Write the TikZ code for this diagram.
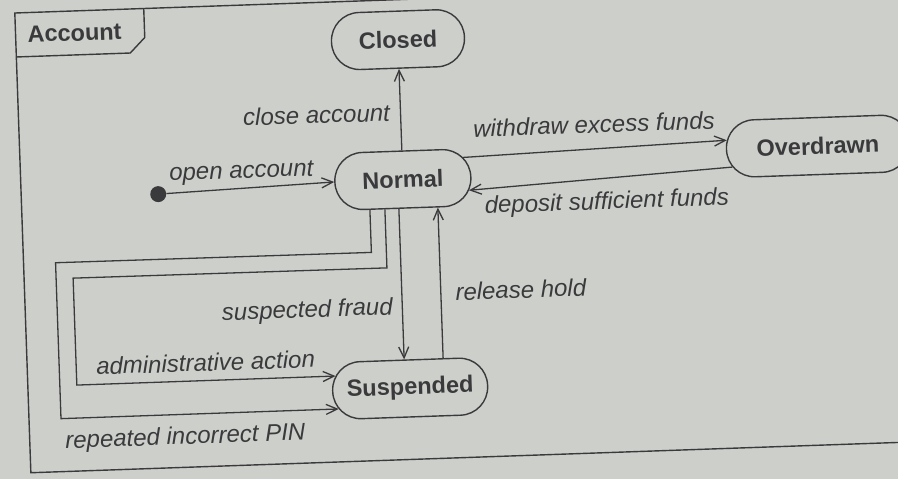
\documentclass[tikz,border=0pt]{standalone}
\usepackage{fontspec}
\setmainfont{Liberation Sans}
\usetikzlibrary{arrows.meta,calc}
\definecolor{paper}{RGB}{205,207,203}
\definecolor{ink}{RGB}{58,58,60}
\begin{document}
\begin{tikzpicture}[x=1pt,y=1pt,
  stbox/.style={draw=ink, line width=1.4pt, rounded corners=28pt,
    minimum height=57pt, inner sep=0pt, text=ink,
    font=\bfseries\fontsize{23.5}{28}\selectfont},
  lbl/.style={inner sep=0pt, text=ink, text height=17pt, text depth=5pt,
    font=\itshape\fontsize{24}{28}\selectfont},
  arr/.style={draw=ink, line width=1.3pt,
    -{Straight Barb[length=11pt,width=10pt,line width=1.3pt]}},
  framestyle/.style={draw=ink, line width=1.4pt}]
% paper
\fill[paper] (0,0) rectangle (898,-479);
\useasboundingbox (0,0) rectangle (898,-479);
\begin{scope}[transform canvas={rotate around={2:(449,-240)}}]
  % frame with name tab
  \draw[framestyle] (960,2) -- (23,2) -- (23,-458) -- (960,-458);
  \draw[framestyle] (23,-42) -- (137,-42) -- (152,-27) -- (152,2);
  \node[text=ink, inner sep=0pt, font=\bfseries\fontsize{23.5}{28}\selectfont]
    (acct) at (82,-20) {Account};

  % states
  \node[stbox, minimum width=133pt] (closed) at (405,-38)  {Closed};
  \node[stbox, minimum width=136pt] (normal) at (405,-178) {Normal};
  \node[stbox, minimum width=183pt] (over)   at (821,-159) {Overdrawn};
  \node[stbox, minimum width=155pt] (susp)   at (405,-387) {Suspended};
  \node[circle, fill=ink, minimum size=16pt, inner sep=0pt] (init) at (160,-184) {};

  % transitions
  \draw[arr] (init) -- node[lbl, pos=0.45, yshift=16pt] {open account} (normal.west);
  \draw[arr] (normal.north) -- node[lbl, left=10pt, pos=0.44] {close account} (closed.south);
  \draw[arr] ($(normal.east)+(-8,20)$) --
    node[lbl, pos=0.5, yshift=22pt] {withdraw excess funds} ($(over.west)+(1.3,9)$);
  \draw[arr] ($(over.west)+(6,-18)$) --
    node[lbl, pos=0.48, yshift=-25pt] {deposit sufficient funds} ($(normal.east)+(-3,-13)$);
  \draw[arr] ($(normal.south)+(-5,0)$) --
    node[lbl, left=9pt, pos=0.66] {suspected fraud} ($(susp.north)+(-5,0)$);
  \draw[arr] ($(susp.north)+(34,0)$) --
    node[lbl, right=14pt, pos=0.42] {release hold} ($(normal.south)+(34,0)$);
  \draw[arr] ($(normal.south)+(-19,0)$) -- ++(0,-58.5) -- (72,-265) -- (72,-372) --
    node[lbl, pos=0.5, yshift=15.5pt] {administrative action} ($(susp.west)+(4,15)$);
  \draw[arr] ($(normal.south)+(-34,0)$) -- ++(0,-42.5) -- (55,-249) -- (55,-405) --
    node[lbl, pos=0.445, yshift=-24pt] {repeated incorrect PIN} ($(susp.west)+(6,-18)$);
\end{scope}
\end{tikzpicture}
\end{document}
